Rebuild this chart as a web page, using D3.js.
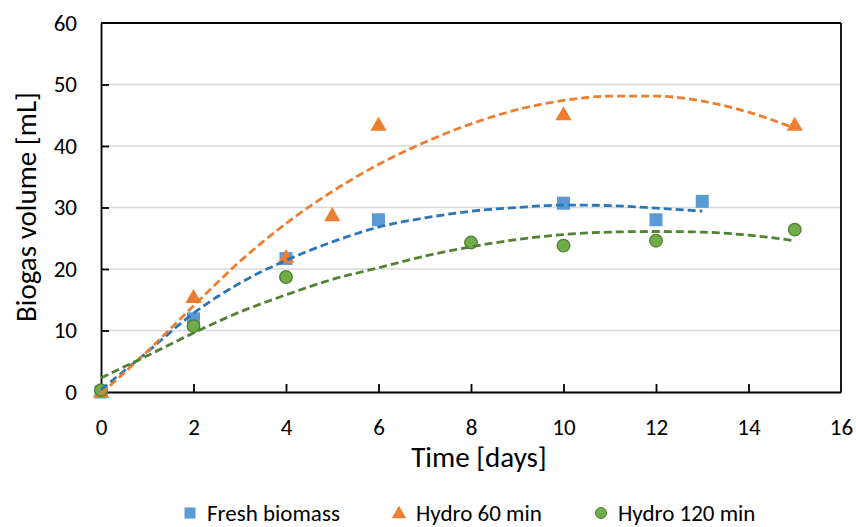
<!DOCTYPE html>
<html>
<head>
<meta charset="utf-8">
<script src="https://cdn.jsdelivr.net/npm/d3@7"></script>
<style>
  body { margin: 0; background: #fff; }
  svg { font-family: Carlito, Calibri, Lato, sans-serif; }
</style>
</head>
<body>
<svg id="chart" width="856" height="527"></svg>
<script>
// measured points
var freshDays = [0, 2, 4, 6, 10, 12, 13];
var freshVol = [0, 11.9, 21.7, 28.0, 30.7, 28.0, 31.0];
var h60Days = [0, 2, 4, 5, 6, 10, 15];
var h60Vol = [0, 15.4, 21.9, 28.7, 43.4, 45.1, 43.4];
var h120Days = [0, 2, 4, 8, 10, 12, 15];
var h120Vol = [0.3, 10.7, 18.7, 24.3, 23.8, 24.6, 26.4];

// trendlines
var freshTrendDays = [0, 1, 2, 3, 4, 5, 6, 7, 8, 9, 10, 11, 12, 13];
var freshTrendVol = [0.4, 6.5, 12.8, 17.7, 21.4, 24.4, 26.8, 28.3, 29.4, 30.0, 30.4, 30.3, 29.9, 29.4];
var h60TrendDays = [0, 1, 2, 3, 4, 5, 6, 7, 8, 9, 10, 11, 12, 13, 14, 15];
var h60TrendVol = [-0.3, 6.6, 14.0, 21.2, 27.4, 32.6, 37.0, 40.6, 43.6, 45.9, 47.4, 48.1, 48.1, 47.3, 45.5, 42.9];
var h120TrendDays = [0, 1, 2, 3, 4, 5, 6, 7, 8, 9, 10, 11, 12, 13, 14, 15];
var h120TrendVol = [2.3, 5.9, 9.6, 13.0, 15.8, 18.3, 20.2, 22.1, 23.6, 24.8, 25.6, 26.0, 26.1, 26.0, 25.5, 24.6];

var xTicks = [0, 2, 4, 6, 8, 10, 12, 14, 16];
var yTicks = [0, 10, 20, 30, 40, 50, 60];
var seriesNames = ["Fresh biomass", "Hydro 60 min", "Hydro 120 min"];

var svg = d3.select('#chart');
var pLeft = 101, pRight = 841, pTop = 23, pBottom = 392;
var font = 'Carlito, Calibri, Lato, sans-serif';

var x = d3.scaleLinear().domain([0, 16]).range([pLeft, pRight]);
var y = d3.scaleLinear().domain([0, 60]).range([pBottom, pTop]);

// gridlines
svg.append('g').selectAll('line').data(yTicks.filter(function(d){ return d > 0 && d < 60; }))
  .enter().append('line')
  .attr('x1', pLeft).attr('x2', pRight)
  .attr('y1', function(d){ return y(d); }).attr('y2', function(d){ return y(d); })
  .attr('stroke', '#d9d9d9').attr('stroke-width', 1.3);

// axes with inward ticks
var xAxis = svg.append('g').attr('transform', 'translate(0,' + pBottom + ')')
  .call(d3.axisBottom(x).tickValues(xTicks).tickSizeInner(-8).tickSizeOuter(0).tickPadding(27));
var yAxis = svg.append('g').attr('transform', 'translate(' + pLeft + ',0)')
  .call(d3.axisLeft(y).tickValues(yTicks).tickSizeInner(-8).tickSizeOuter(0).tickPadding(24));
[xAxis, yAxis].forEach(function(a){
  a.attr('font-size', 23).attr('font-family', font);
  a.selectAll('path, line').attr('stroke', '#000').attr('stroke-width', 1.8);
  a.selectAll('text').attr('fill', '#000');
});
xAxis.selectAll('.tick line').filter(function(d){ return d === 0 || d === 16; }).remove();
yAxis.selectAll('.tick line').filter(function(d){ return d === 0 || d === 60; }).remove();

// top and right frame
svg.append('line').attr('x1', pLeft).attr('x2', pRight).attr('y1', pTop).attr('y2', pTop)
  .attr('stroke', '#000').attr('stroke-width', 1.8);
svg.append('line').attr('x1', pRight).attr('x2', pRight).attr('y1', pTop).attr('y2', pBottom)
  .attr('stroke', '#000').attr('stroke-width', 1.8);

// markers
var zip = function(a, b){ return a.map(function(d, i){ return [d, b[i]]; }); };

svg.append('g').selectAll('rect').data(zip(freshDays, freshVol)).enter().append('rect')
  .attr('x', function(d){ return x(d[0]) - 6.5; }).attr('y', function(d){ return y(d[1]) - 6.5; })
  .attr('width', 13).attr('height', 13).attr('fill', '#5b9bd5');

var tri = d3.symbol().type(d3.symbolTriangle).size(115);
svg.append('g').selectAll('path').data(zip(h60Days, h60Vol)).enter().append('path')
  .attr('d', tri).attr('transform', function(d){ return 'translate(' + x(d[0]) + ',' + (y(d[1]) + 1) + ')'; })
  .attr('fill', '#ed7d31');

svg.append('g').selectAll('circle').data(zip(h120Days, h120Vol)).enter().append('circle')
  .attr('cx', function(d){ return x(d[0]); }).attr('cy', function(d){ return y(d[1]); })
  .attr('r', 6.3).attr('fill', '#70ad47').attr('stroke', '#507e32').attr('stroke-width', 1.3);

// trendlines
var line = d3.line().x(function(d){ return x(d[0]); }).y(function(d){ return y(d[1]); }).curve(d3.curveMonotoneX);
var trends = [
  [zip(freshTrendDays, freshTrendVol), '#2e75b6'],
  [zip(h60TrendDays, h60TrendVol), '#ed7d31'],
  [zip(h120TrendDays, h120TrendVol), '#548235']
];
trends.forEach(function(t){
  svg.append('path').attr('d', line(t[0])).attr('fill', 'none')
    .attr('stroke', t[1]).attr('stroke-width', 2.8).attr('stroke-dasharray', '8,4');
});

// axis titles
svg.append('text').attr('x', 479).attr('y', 467).attr('text-anchor', 'middle')
  .attr('font-size', 29).text('Time [days]');
svg.append('text').attr('transform', 'translate(36,207) rotate(-90)').attr('text-anchor', 'middle')
  .attr('font-size', 29).text('Biogas volume [mL]');

// legend
var lg = svg.append('g').attr('font-size', 23);
var lx = [190, 399, 601];
lg.append('rect').attr('x', lx[0] - 5.5).attr('y', 507.5).attr('width', 11).attr('height', 11).attr('fill', '#5b9bd5');
lg.append('path').attr('d', d3.symbol().type(d3.symbolTriangle).size(90))
  .attr('transform', 'translate(' + lx[1] + ',514)').attr('fill', '#ed7d31');
lg.append('circle').attr('cx', lx[2]).attr('cy', 513).attr('r', 5.5).attr('fill', '#70ad47')
  .attr('stroke', '#507e32').attr('stroke-width', 1);
lg.selectAll('text').data(seriesNames).enter().append('text')
  .attr('x', function(d, i){ return lx[i] + 17; }).attr('y', 521).text(function(d){ return d; });
</script>
</body>
</html>
